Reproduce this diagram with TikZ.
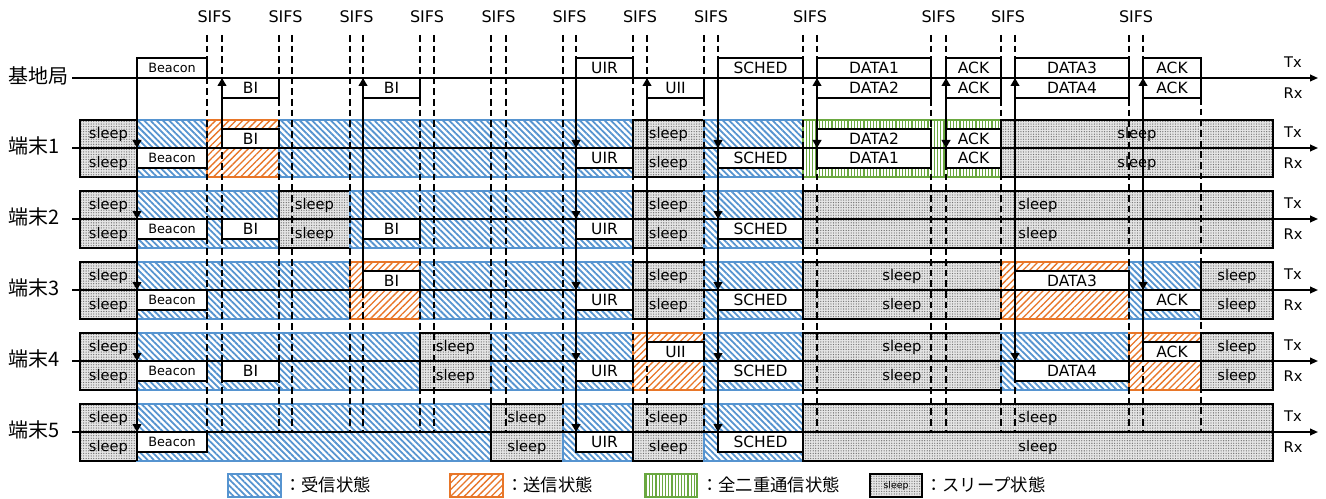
\documentclass[tikz,border=0pt]{standalone}
\usepackage{fontspec}
\setmainfont{DejaVu Sans}
\newfontfamily\jpfont{Noto Sans CJK JP}
\usetikzlibrary{patterns,patterns.meta,arrows.meta}
\definecolor{rxblue}{RGB}{86,148,208}
\definecolor{txorange}{RGB}{232,118,40}
\definecolor{fdgreen}{RGB}{106,168,64}
\tikzset{
  rxseg/.style={draw=rxblue, line width=1.1pt, preaction={fill=white},
    pattern={Lines[angle=-45,distance=3.3pt,line width=1.35pt]}, pattern color=rxblue},
  txseg/.style={draw=txorange, line width=1.1pt, preaction={fill=white},
    pattern={Lines[angle=45,distance=3.6pt,line width=1.0pt]}, pattern color=txorange},
  fdseg/.style={draw=fdgreen, line width=1.1pt, preaction={fill=white},
    pattern={Lines[angle=90,distance=2.4pt,line width=1.0pt]}, pattern color=fdgreen},
  slpseg/.style={draw=black, line width=1.1pt, preaction={fill=gray!20},
    pattern={Dots[distance=1.9pt,radius=0.5pt]}, pattern color=black!55},
  wbox/.style={draw=black, line width=1.4pt, fill=white},
  boxtxt/.style={font=\fontsize{11.6}{11.6}\selectfont, inner sep=0pt},
  beacontxt/.style={font=\fontsize{9.6}{9.6}\selectfont, inner sep=0pt},
  slptxt/.style={font=\fontsize{11}{11}\selectfont, inner sep=0pt},
  sifstxt/.style={font=\fontsize{12}{12}\selectfont, inner sep=0pt},
  trxtxt/.style={font=\fontsize{11}{11}\selectfont, inner sep=0pt},
  rowlbl/.style={font=\jpfont\fontsize{15}{15}\selectfont, inner sep=0pt, anchor=west},
  legtxt/.style={font=\jpfont\fontsize{13}{13}\selectfont, inner sep=0pt, anchor=west},
  sifsline/.style={line width=1.1pt, dash pattern=on 5pt off 3pt},
  axisline/.style={line width=1.3pt, -{Triangle[width=5pt,length=6pt]}},
  vline/.style={line width=1.5pt},
  arr/.style={line width=1.5pt, -{Triangle[width=6.5pt,length=6pt]}}
}
% segment: axis, x1, x2, style
\newcommand\myseg[4]{\draw[#4] (#2,#1-28) rectangle (#3,#1+29);}
\newcommand\mysleep[3]{\draw[slpseg] (#2,#1-28) rectangle (#3,#1+29);
  \node[slptxt] at ({(#2+#3)/2},#1-14) {sleep};
  \node[slptxt] at ({(#2+#3)/2},#1+15) {sleep};}
% white box: x1, x2, y1, y2, text
\newcommand\mybox[5]{\draw[wbox] (#1,#3) rectangle (#2,#4);
  \node[boxtxt] at ({(#1+#2)/2},{(#3+#4)/2}) {#5};}
\newcommand\mybeacon[2]{\draw[wbox] (137,#1) rectangle (207,#2);
  \node[beacontxt] at (172,{(#1+#2)/2}) {Beacon};}
% terminal boxes: axis, x1, x2, text
\newcommand\txb[4]{\mybox{#2}{#3}{#1-19}{#1}{#4}}
\newcommand\rxb[4]{\mybox{#2}{#3}{#1}{#1+20}{#4}}
\begin{document}
\begin{tikzpicture}[x=0.75pt,y=-0.75pt]
\useasboundingbox (0,0) rectangle (1326,499);

% ---------- terminal state segments ----------
% T1
\mysleep{148}{80}{137}
\myseg{148}{137}{207}{rxseg}
\myseg{148}{207}{279}{txseg}
\myseg{148}{279}{633}{rxseg}
\mysleep{148}{633}{704}
\myseg{148}{704}{803}{rxseg}
\myseg{148}{803}{1001}{fdseg}
\mysleep{148}{1001}{1273}
% T2
\mysleep{219}{80}{137}
\myseg{219}{137}{279}{rxseg}
\mysleep{219}{279}{350}
\myseg{219}{350}{633}{rxseg}
\mysleep{219}{633}{704}
\myseg{219}{704}{803}{rxseg}
\mysleep{219}{803}{1273}
% T3
\mysleep{290}{80}{137}
\myseg{290}{137}{350}{rxseg}
\myseg{290}{350}{420}{txseg}
\myseg{290}{420}{633}{rxseg}
\mysleep{290}{633}{704}
\myseg{290}{704}{803}{rxseg}
\mysleep{290}{803}{1001}
\myseg{290}{1001}{1129}{txseg}
\myseg{290}{1129}{1201}{rxseg}
\mysleep{290}{1201}{1273}
% T4
\mysleep{361}{80}{137}
\myseg{361}{137}{420}{rxseg}
\mysleep{361}{420}{491}
\myseg{361}{491}{633}{rxseg}
\myseg{361}{633}{704}{txseg}
\myseg{361}{704}{803}{rxseg}
\mysleep{361}{803}{1001}
\myseg{361}{1001}{1129}{rxseg}
\myseg{361}{1129}{1201}{txseg}
\mysleep{361}{1201}{1273}
% T5
\mysleep{432}{80}{137}
\myseg{432}{137}{491}{rxseg}
\mysleep{432}{491}{563}
\myseg{432}{563}{633}{rxseg}
\mysleep{432}{633}{704}
\myseg{432}{704}{803}{rxseg}
\mysleep{432}{803}{1273}

% ---------- SIFS dashed lines ----------
\foreach \x in {207,222,279,292,350,363,420,434,491,506,563,576,633,647,704,718,803,817,931,946,1001,1015,1129,1143}
  \draw[sifsline] (\x,35) -- (\x,432);
\draw[sifsline] (1201,98) -- (1201,432);
\foreach \x/\n in {214.5/1,285.5/2,356.5/3,427/4,498.5/5,569.5/6,640/7,711/8,810/9,938.5/10,1008/11,1136/12}
  \node[sifstxt] (sifs\n) at (\x,17) {SIFS};

% ---------- base station boxes ----------
\mybeacon{58}{78}
\mybox{576}{633}{58}{78}{UIR}
\mybox{718}{803}{58}{78}{SCHED}
\mybox{817}{931}{58}{78}{DATA1}
\mybox{946}{1001}{58}{78}{ACK}
\mybox{1015}{1129}{58}{78}{DATA3}
\mybox{1143}{1201}{58}{78}{ACK}
\mybox{222}{279}{78}{98}{BI}
\mybox{363}{420}{78}{98}{BI}
\mybox{647}{704}{78}{98}{UII}
\mybox{817}{931}{78}{98}{DATA2}
\mybox{946}{1001}{78}{98}{ACK}
\mybox{1015}{1129}{78}{98}{DATA4}
\mybox{1143}{1201}{78}{98}{ACK}

% ---------- terminal boxes ----------
% T1
\txb{148}{222}{279}{BI}
\txb{148}{817}{931}{DATA2}
\txb{148}{946}{1001}{ACK}
\mybeacon{148}{168}
\rxb{148}{576}{633}{UIR}
\rxb{148}{718}{803}{SCHED}
\rxb{148}{817}{931}{DATA1}
\rxb{148}{946}{1001}{ACK}
% T2
\mybeacon{219}{239}
\rxb{219}{222}{279}{BI}
\rxb{219}{363}{420}{BI}
\rxb{219}{576}{633}{UIR}
\rxb{219}{718}{803}{SCHED}
% T3
\txb{290}{363}{420}{BI}
\txb{290}{1015}{1129}{DATA3}
\mybeacon{290}{310}
\rxb{290}{576}{633}{UIR}
\rxb{290}{718}{803}{SCHED}
\rxb{290}{1143}{1201}{ACK}
% T4
\txb{361}{647}{704}{UII}
\txb{361}{1143}{1201}{ACK}
\mybeacon{361}{381}
\rxb{361}{222}{279}{BI}
\rxb{361}{576}{633}{UIR}
\rxb{361}{718}{803}{SCHED}
\rxb{361}{1015}{1129}{DATA4}
% T5
\mybeacon{432}{452}
\rxb{432}{576}{633}{UIR}
\rxb{432}{718}{803}{SCHED}

% ---------- row labels and time axes ----------
\node[rowlbl] (bs) at (8,76) {基地局};
\node[rowlbl] (t1) at (8,146) {端末1};
\node[rowlbl] (t2) at (8,217) {端末2};
\node[rowlbl] (t3) at (8,288) {端末3};
\node[rowlbl] (t4) at (8,359) {端末4};
\node[rowlbl] (t5) at (8,430) {端末5};
\foreach \a in {78,148,219,290,361,432}{
  \draw[axisline] (72,\a) -- (1318,\a);
  \node[trxtxt] at (1293,\a-16) {Tx};
  \node[trxtxt] at (1293,\a+15) {Rx};
}

% ---------- message arrows ----------
% Beacon, UIR, SCHED broadcast
\foreach \x/\e in {137/461,576/452,718/452}{
  \draw[vline] (\x,58) -- (\x,\e);
  \foreach \a in {148,219,290,361,432}
    \draw[arr] (\x,\a-16) -- (\x,\a);
}
% BI from T1, BI from T3, UII from T4
\draw[arr] (222,148) -- (222,78);
\draw[arr] (363,290) -- (363,78);
\draw[arr] (647,361) -- (647,78);
% DATA1/2 and ACK with T1
\foreach \x in {817,946}{
  \draw[vline] (\x,58) -- (\x,148);
  \draw[arr] (\x,94) -- (\x,78);
  \draw[arr] (\x,132) -- (\x,148);
}
% DATA3/4
\draw[vline] (1015,58) -- (1015,361);
\draw[arr] (1015,94) -- (1015,78);
\draw[arr] (1015,345) -- (1015,361);
% ACK
\draw[vline] (1143,58) -- (1143,361);
\draw[arr] (1143,94) -- (1143,78);
\draw[arr] (1143,274) -- (1143,290);

% ---------- legend ----------
\draw[rxseg] (228,474) rectangle (281,497);
\node[legtxt] (l1) at (284,485) {：受信状態};
\draw[txseg] (450,474) rectangle (503,497);
\node[legtxt] (l2) at (506,485) {：送信状態};
\draw[fdseg] (645,474) rectangle (697,497);
\node[legtxt] (l3) at (701,485) {：全二重通信状態};
\draw[slpseg] (870,474) rectangle (922,497);
\node[font=\fontsize{7}{7}\selectfont, inner sep=0pt] (l4s) at (896,485.5) {sleep};
\node[legtxt] (l4) at (925,485) {：スリープ状態};
\end{tikzpicture}
\end{document}
